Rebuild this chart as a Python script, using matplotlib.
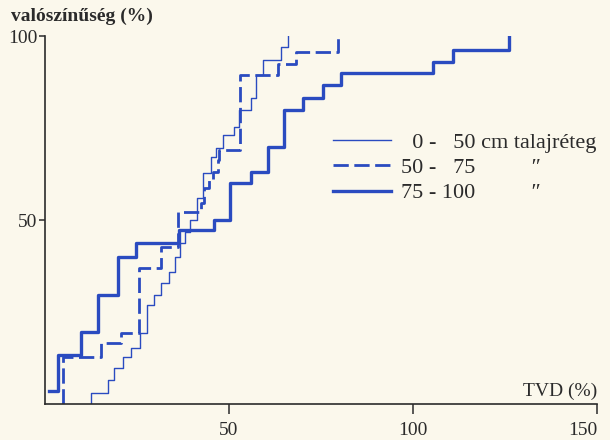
import matplotlib
matplotlib.use("Agg")
import matplotlib.pyplot as plt

tvd_0_50 = [12.5, 12.5, 17.1, 18.8, 21.2, 23.4, 25.8, 27.7, 29.6, 31.5, 33.7,
            35.3, 36.7, 38.0, 39.4, 41.3, 42.9, 45.1, 46.5, 48.4, 51.4, 52.7,
            56.0, 57.3, 59.2, 64.1, 66.0]
p_0_50 = [0, 3.0, 6.5, 9.8, 12.8, 15.2, 19.3, 26.9, 29.6, 32.9, 35.9,
          39.9, 43.8, 46.7, 50.0, 56.0, 62.8, 67.1, 69.6, 73.1, 75.3, 79.9,
          83.2, 89.4, 93.5, 97.0, 100]

tvd_50_75 = [5.0, 5.0, 15.2, 20.7, 25.5, 31.5, 36.1, 42.4, 43.2, 44.6, 45.7,
             47.0, 47.3, 53.0, 63.3, 68.2, 79.6]
p_50_75 = [0, 12.8, 16.6, 19.3, 37.0, 42.7, 52.2, 54.6, 58.7, 60.9, 63.0,
           66.3, 69.0, 89.4, 92.4, 95.7, 100]

tvd_75_100 = [1.1, 3.5, 9.8, 14.4, 19.8, 24.7, 36.4, 45.9, 50.3, 56.0, 60.6,
              64.9, 70.1, 75.5, 80.4, 105.4, 110.9, 126.1]
p_75_100 = [3.5, 13.3, 19.6, 29.6, 39.9, 43.8, 47.3, 50.0, 60.1, 63.0, 69.8,
            79.9, 83.2, 86.7, 89.9, 92.9, 96.2, 100]

x_ticks = [50, 100, 150]
y_ticks = [50, 100]

BLUE = "#2a4bc0"
INK = "#2b2b2b"
PAPER = "#fbf8ec"

plt.rcParams["font.family"] = ["Liberation Serif", "DejaVu Serif"]
plt.rcParams["text.color"] = INK

fig = plt.figure(figsize=(6.1, 4.4), dpi=100, facecolor=PAPER)
ax = fig.add_axes([45 / 610, 36 / 440, 552 / 610, 368 / 440])
ax.set_facecolor(PAPER)

ax.step(tvd_0_50, p_0_50, where="post", color=BLUE, lw=1.0,
        label="  0 -   50 cm talajréteg")
ax.step(tvd_50_75, p_50_75, where="post", color=BLUE, lw=2.0,
        linestyle=(0, (5.5, 2)), label="50 -   75          ″")
ax.step(tvd_75_100, p_75_100, where="post", color=BLUE, lw=2.4,
        label="75 - 100          ″")

ax.set_xlim(0, 150)
ax.set_ylim(0, 100)
for s in ["top", "right"]:
    ax.spines[s].set_visible(False)
for s in ["left", "bottom"]:
    ax.spines[s].set_color(INK)
    ax.spines[s].set_linewidth(1.2)

ax.set_xticks(x_ticks)
ax.set_yticks(y_ticks)
ax.tick_params(axis="x", direction="out", length=7, width=1.1, color=INK,
               labelsize=14, labelcolor=INK, pad=6)
ax.tick_params(axis="y", direction="out", length=4.5, width=1.1, color=INK,
               labelsize=14, labelcolor=INK, pad=1)
# last label sits flush against the right edge, as in the print
ax.get_xticklabels()[-1].set_horizontalalignment("right")

ax.text(1.0, 0.012, "TVD (%)", transform=ax.transAxes, ha="right",
        va="bottom", fontsize=14)
fig.text(0.018, 0.962, "valószínűség (%)", ha="left", va="center",
         fontsize=14, fontweight="bold")

ax.legend(loc="center left", bbox_to_anchor=(0.522, 0.642), frameon=False,
          fontsize=16, handlelength=2.6, handletextpad=0.45,
          labelspacing=0.22, borderpad=0, borderaxespad=0)

fig.savefig("out.png", dpi=100, facecolor=PAPER)
